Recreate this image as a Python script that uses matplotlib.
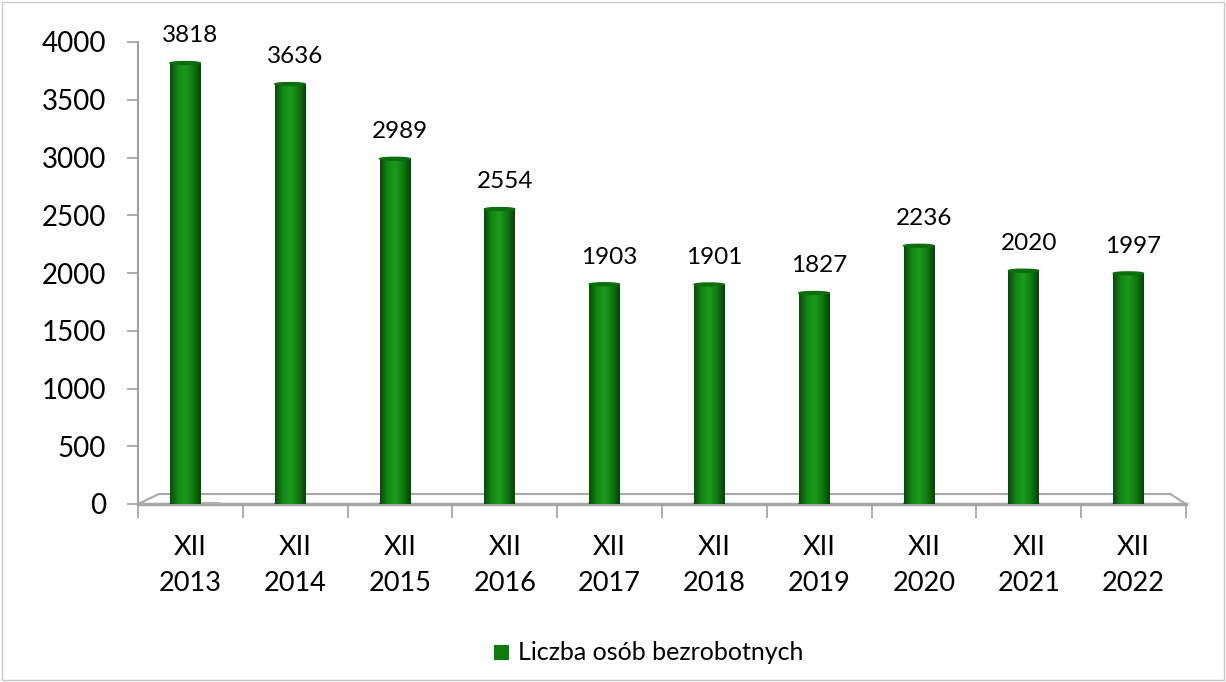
import matplotlib.pyplot as plt
import numpy as np
from matplotlib.colors import LinearSegmentedColormap
from matplotlib.patches import Polygon, Rectangle, Ellipse

plt.rcParams['font.family'] = ['Lato', 'DejaVu Sans']

categories = ['XII\n2013', 'XII\n2014', 'XII\n2015', 'XII\n2016', 'XII\n2017',
              'XII\n2018', 'XII\n2019', 'XII\n2020', 'XII\n2021', 'XII\n2022']
values = [3818, 3636, 2989, 2554, 1903, 1901, 1827, 2236, 2020, 1997]
series_name = 'Liczba osób bezrobotnych'

fig = plt.figure(figsize=(12.26, 6.82), dpi=100)
ax = fig.add_axes([138/1226, 1 - 504/682, (1186 - 138)/1226, (504 - 42)/682])

# cylinder-like shading for bars
cmap = LinearSegmentedColormap.from_list('cyl', ['#0a4a0a', '#128812', '#1c9a1c', '#0f7a0f', '#054405'])
grad = np.linspace(0, 1, 64).reshape(1, -1)

x = np.arange(len(values))
bw = 0.29
off = -0.05
for xi, v in zip(x, values):
    ax.imshow(grad, cmap=cmap, extent=[xi + off - bw/2, xi + off + bw/2, 0, v],
              aspect='auto', zorder=3, interpolation='bicubic')
    ax.add_patch(Ellipse((xi + off, v), bw, 25, color='#0c6e0c', zorder=4))
    ax.add_patch(Ellipse((xi + off, 0), bw, 30, color='#0c6a0c', zorder=2.9))
    ax.annotate(str(v), (xi, v), xytext=(0, 12), textcoords='offset points',
                ha='center', va='bottom', fontsize=17.5, color='black')

# shadow under first bar
ax.add_patch(Ellipse((0.2, 0), 0.22, 25, color='#b0b0b0', zorder=2))

ax.set_xlim(-0.5, len(values) - 0.5)
ax.set_ylim(0, 4000)
ax.set_yticks(range(0, 4001, 500))
ax.set_xticks(x)
ax.set_xticklabels(categories, fontsize=19.5, linespacing=1.55)
ax.tick_params(axis='y', labelsize=20, length=8, color='#a0a0a0', width=1.2, pad=15)
ax.tick_params(axis='x', length=0, pad=22)
ax.set_xticks(np.arange(-0.5, len(values)), minor=True)
ax.tick_params(axis='x', which='minor', length=10, color='#a0a0a0', width=1.2)

for s in ['top', 'right', 'bottom']:
    ax.spines[s].set_visible(False)
ax.spines['left'].set_color('#a0a0a0')
ax.spines['left'].set_linewidth(1.5)

# 3d floor
trans = ax.get_xaxis_transform()
floor = Polygon([(-0.5, 0), (-0.3, 10/462), (len(values) - 0.65, 10/462),
                 (len(values) - 0.5, 0)], closed=True, facecolor='white',
                edgecolor='#a8a8a8', linewidth=1.5, transform=trans, zorder=1,
                clip_on=False)
ax.add_patch(floor)
ax.plot([-0.5, len(values) - 0.5], [0, 0], color='#a8a8a8', lw=2.5,
        transform=trans, clip_on=False, zorder=1.5)

# legend
fig.patches.append(Rectangle((494/1226, 1 - 660/682), 15/1226, 15/682,
                             facecolor='#0a7d0a', transform=fig.transFigure))
fig.text(518/1226, 1 - 652/682, series_name, fontsize=18, va='center', ha='left')

# outer border
fig.patches.append(Rectangle((0.002, 0.003), 0.996, 0.994, fill=False,
                             edgecolor='#c8c8c8', linewidth=1, transform=fig.transFigure))

fig.savefig('out.png', dpi=100)
